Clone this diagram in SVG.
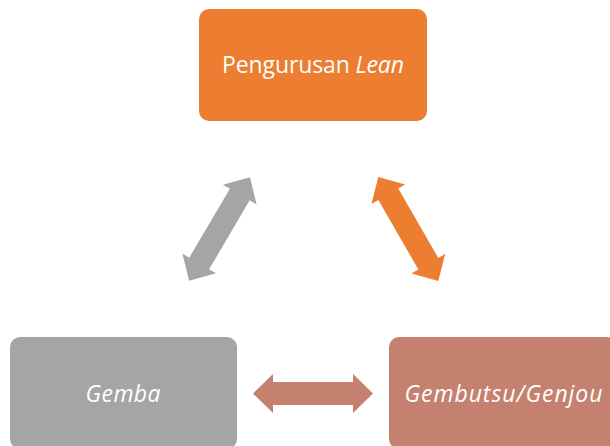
<svg xmlns="http://www.w3.org/2000/svg" width="610" height="446" viewBox="0 0 610 446">
  <defs>
    <!-- double-headed block arrow, 120 long, centred on the origin along x -->
    <polygon id="dbl" points="-60,0 -40,-19.5 -40,-11.5 40,-11.5 40,-19.5 60,0 40,19.5 40,11.5 -40,11.5 -40,19.5"/>
  </defs>
  <style>
    .box { stroke: none; }
    .lbl { font-family: "Open Sans", "Noto Sans", "Liberation Sans", sans-serif; font-size: 23px; fill: #ffffff; text-anchor: middle; }
    .it { font-style: italic; }
  </style>
  <rect width="610" height="446" fill="#ffffff"/>

  <g id="connectors">
    <use href="#dbl" fill="#A5A5A5" transform="translate(219.5,229) rotate(-59.5)"/>
    <use href="#dbl" fill="#ED7D31" transform="translate(408.3,229) rotate(60)"/>
    <use href="#dbl" fill="#C5816F" transform="translate(313,393.5)"/>
  </g>

  <g id="pengurusan-lean">
    <rect class="box" x="199" y="9" width="228" height="112" rx="10" fill="#ED7D31"/>
    <text class="lbl" x="313" y="73" textLength="182" lengthAdjust="spacing">Pengurusan <tspan class="it">Lean</tspan></text>
  </g>

  <g id="gemba">
    <rect class="box" x="10" y="337" width="227" height="112" rx="10" fill="#A5A5A5"/>
    <text class="lbl it" x="123" y="402" textLength="75" lengthAdjust="spacing">Gemba</text>
  </g>

  <g id="gembutsu-genjou">
    <rect class="box" x="389" y="337" width="228" height="112" rx="10" fill="#C5816F"/>
    <text class="lbl it" x="503.5" y="402" textLength="198" lengthAdjust="spacing">Gembutsu/Genjou</text>
  </g>
</svg>
